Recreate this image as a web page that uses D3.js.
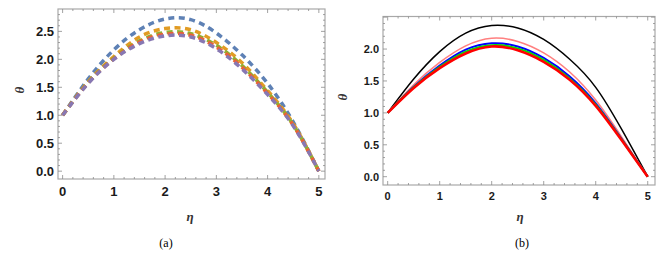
<!DOCTYPE html>
<html>
<head>
<meta charset="utf-8">
<script src="https://cdn.jsdelivr.net/npm/d3@7"></script>
<style>
  body { margin: 0; background: #fff; }
  .tick-label { font-family: "Liberation Sans", Arial, sans-serif; font-weight: bold; fill: #1a1a1a; }
  .axis-title { font-family: "Liberation Serif", "Times New Roman", serif; font-style: italic; font-weight: bold; fill: #333; }
  .caption { font-family: "Liberation Serif", "Times New Roman", serif; font-size: 12px; fill: #000; }
</style>
</head>
<body>
<svg id="fig" width="670" height="262"></svg>
<script>
// eta sample points shared by every curve
var eta = [0, 0.5, 1, 1.5, 2, 2.5, 3, 3.5, 4, 4.5, 5];

// panel (a): dashed curves
var aBlue   = [1.0, 1.65, 2.17, 2.53, 2.72, 2.71, 2.47, 2.08, 1.57, 0.88, 0.0];
var aOrange = [1.0, 1.60, 2.05, 2.40, 2.55, 2.53, 2.30, 1.94, 1.44, 0.85, 0.0];
var aGreen  = [1.0, 1.59, 2.02, 2.33, 2.48, 2.46, 2.25, 1.89, 1.41, 0.83, 0.0];
var aRed    = [1.0, 1.58, 2.01, 2.31, 2.45, 2.43, 2.22, 1.86, 1.39, 0.82, 0.0];
var aPurple = [1.0, 1.57, 2.00, 2.28, 2.42, 2.40, 2.19, 1.83, 1.37, 0.81, 0.0];

// panel (b): solid curves
var bBlack = [1.0, 1.53, 1.96, 2.25, 2.37, 2.33, 2.15, 1.84, 1.40, 0.74, 0.0];
var bPink  = [1.0, 1.44, 1.79, 2.05, 2.17, 2.12, 1.94, 1.64, 1.20, 0.62, 0.0];
var bBlue  = [1.0, 1.41, 1.74, 1.99, 2.09, 2.04, 1.86, 1.57, 1.15, 0.59, 0.0];
var bGreen = [1.0, 1.40, 1.72, 1.96, 2.06, 2.01, 1.83, 1.54, 1.13, 0.58, 0.0];
var bRed   = [1.0, 1.39, 1.70, 1.93, 2.04, 1.98, 1.80, 1.52, 1.11, 0.57, 0.0];

var xTicks = [0, 1, 2, 3, 4, 5];
var aYTicks = [0, 0.5, 1, 1.5, 2, 2.5];
var bYTicks = [0, 0.5, 1, 1.5, 2];

var svg = d3.select("#fig");

function panel(opt) {
  var g = svg.append("g");
  var x = d3.scaleLinear().domain(opt.xDomain).range([opt.left, opt.right]);
  var y = d3.scaleLinear().domain(opt.yDomain).range([opt.bottom, opt.top]);

  // frame
  g.append("rect")
    .attr("x", opt.left).attr("y", opt.top)
    .attr("width", opt.right - opt.left).attr("height", opt.bottom - opt.top)
    .attr("fill", "none").attr("stroke", "#a8a8a8").attr("stroke-width", 1.2);

  var tk = g.append("g").attr("stroke", "#8a8a8a").attr("stroke-width", 0.8);
  // x ticks, major and minor, bottom and top, inward
  d3.range(0, 5.0001, 0.2).forEach(function(v) {
    var major = Math.abs(v - Math.round(v)) < 1e-6;
    var len = major ? 4 : 2;
    var px = x(v);
    tk.append("line").attr("x1", px).attr("x2", px).attr("y1", opt.bottom).attr("y2", opt.bottom - len);
    tk.append("line").attr("x1", px).attr("x2", px).attr("y1", opt.top).attr("y2", opt.top + len);
  });
  d3.range(0, opt.yDomain[1], 0.1).forEach(function(v) {
    if (v < opt.yDomain[0]) return;
    var major = Math.abs(v * 2 - Math.round(v * 2)) < 1e-6;
    var len = major ? 4 : 2;
    var py = y(v);
    tk.append("line").attr("x1", opt.left).attr("x2", opt.left + len).attr("y1", py).attr("y2", py);
    tk.append("line").attr("x1", opt.right).attr("x2", opt.right - len).attr("y1", py).attr("y2", py);
  });

  // tick labels
  g.selectAll(".xl").data(xTicks).enter().append("text")
    .attr("class", "tick-label")
    .attr("x", function(d) { return x(d); })
    .attr("y", opt.bottom + opt.fs + 4)
    .attr("text-anchor", "middle")
    .style("font-size", opt.fs + "px")
    .text(function(d) { return d; });
  g.selectAll(".yl").data(opt.yTicks).enter().append("text")
    .attr("class", "tick-label")
    .attr("x", opt.left - 4)
    .attr("y", function(d) { return y(d); })
    .attr("dy", "0.36em")
    .attr("text-anchor", "end")
    .style("font-size", opt.fs + "px")
    .text(function(d) { return d3.format(".1f")(d); });

  // curves
  var line = d3.line()
    .x(function(d, i) { return x(eta[i]); })
    .y(function(d) { return y(d); })
    .curve(d3.curveNatural);
  opt.series.forEach(function(s) {
    g.append("path")
      .datum(s.values)
      .attr("d", line)
      .attr("fill", "none")
      .attr("stroke", s.color)
      .attr("stroke-width", s.width)
      .attr("stroke-dasharray", s.dash || null);
  });

  // axis titles
  g.append("text").attr("class", "axis-title")
    .attr("x", opt.etaX).attr("y", opt.etaY)
    .attr("text-anchor", "middle").style("font-size", "13px").text("η");
  g.append("text").attr("class", "axis-title")
    .attr("transform", "translate(" + opt.thetaX + "," + opt.thetaY + ") rotate(-90)")
    .attr("text-anchor", "middle").style("font-size", "13px").text("θ");
  g.append("text").attr("class", "caption")
    .attr("x", opt.capX).attr("y", 247)
    .attr("text-anchor", "middle").text(opt.caption);
}

var dash = "6,4.5";
panel({
  left: 58, right: 325, top: 9, bottom: 179,
  xDomain: [-0.09, 5.12], yDomain: [-0.14, 2.9],
  yTicks: aYTicks, fs: 13,
  series: [
    { values: aBlue,   color: "#5E81B5", width: 3.5, dash: dash },
    { values: aOrange, color: "#E19C24", width: 3.5, dash: dash },
    { values: aGreen,  color: "#8FB032", width: 3.5, dash: dash },
    { values: aRed,    color: "#EB6235", width: 3.5, dash: dash },
    { values: aPurple, color: "#8778B3", width: 3.5, dash: dash }
  ],
  etaX: 190, etaY: 221, thetaX: 24, thetaY: 90, capX: 166, caption: "(a)"
});

panel({
  left: 383, right: 655, top: 16.5, bottom: 185,
  xDomain: [-0.09, 5.14], yDomain: [-0.13, 2.51],
  yTicks: bYTicks, fs: 11,
  series: [
    { values: bBlack, color: "#000000", width: 1.5 },
    { values: bPink,  color: "#FF8080", width: 1.6 },
    { values: bBlue,  color: "#0000FF", width: 2 },
    { values: bGreen, color: "#00E000", width: 2 },
    { values: bRed,   color: "#FF0000", width: 2.6 }
  ],
  etaX: 520, etaY: 221, thetaX: 347, thetaY: 97, capX: 522, caption: "(b)"
});
</script>
</body>
</html>
